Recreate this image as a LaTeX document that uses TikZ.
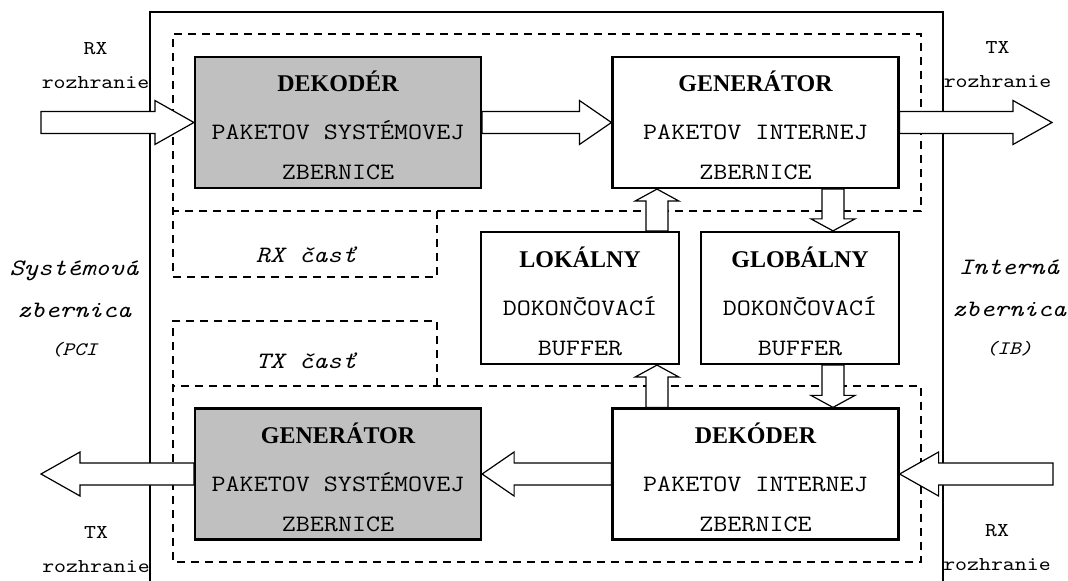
\documentclass[tikz,border=0pt]{standalone}
\usepackage{fontspec}
\setmainfont{Liberation Serif}
\setmonofont[FakeStretch=1.16]{Latin Modern Mono}
\usetikzlibrary{calc, positioning}
\definecolor{decgray}{RGB}{192,192,192}

\newcommand{\blocktitle}[1]{{\rmfamily\bfseries\fontsize{12}{20}\selectfont\rule{0pt}{13.3pt}#1}}
% hollow block arrow: [head length]{start}{tip}
\newcommand{\hollowarrow}[3][19.5pt]{
    \coordinate (ha-s) at (#2);
    \coordinate (ha-t) at (#3);
    \coordinate (ha-h) at ($(ha-t)!#1!(ha-s)$);
    \draw[blockarrow] ($(ha-s)!5.5pt!90:(ha-t)$) -- ($(ha-h)!5.5pt!90:(ha-t)$) -- ($(ha-h)!11pt!90:(ha-t)$) -- (ha-t) -- ($(ha-h)!11pt!-90:(ha-t)$) -- ($(ha-h)!5.5pt!-90:(ha-t)$) -- ($(ha-s)!5.5pt!-90:(ha-t)$) -- cycle;
}

\begin{document}
\begin{tikzpicture}[
    x=0.5pt, y=-0.5pt,
    box/.style={draw, line width=1.1pt, fill=#1, minimum width=143pt, minimum height=65.5pt, inner sep=0pt, align=center, font=\ttfamily\fontsize{11.75}{20}\selectfont},
    box/.default=white,
    bufbox/.style={box, minimum width=99pt, minimum height=66pt},
    region/.style={line width=0.8pt, dash pattern=on 4pt off 3pt},
    parttext/.style={inner sep=0pt, font=\ttfamily\itshape\fontsize{11.75}{14}\selectfont},
    iface/.style={align=center, inner sep=0pt, font=\ttfamily\fontsize{9.8}{17}\selectfont},
    bus/.style={align=center, inner sep=0pt, font=\ttfamily\itshape\fontsize{11.75}{21}\selectfont},
    blockarrow/.style={draw, fill=white, line width=0.6pt, line join=miter, miter limit=10}
]
    \useasboundingbox (0,0) rectangle (1068,581);

    % Outer frame
    \draw[line width=0.7pt] (150,581) -- (150,12) -- (943,12) -- (943,581);

    % RX and TX parts
    \draw[region] (437,211) -- (437,277) -- (173,277) -- (173,34) -- (921,34) -- (921,211) -- (173,211);
    \draw[region] (437,386) -- (437,321) -- (173,321) -- (173,562) -- (921,562) -- (921,386) -- (173,386);
    \node[parttext] (rxpart) at (306,255) {RX časť};
    \node[parttext] (txpart) at (306,361) {TX časť};

    % Blocks
    \node[box=decgray] (sysdec) at (338,122.5) {\blocktitle{DEKODÉR}\\[4pt]PAKETOV SYSTÉMOVEJ\\ZBERNICE};
    \node[box] (intgen) at (755.5,122.5) {\blocktitle{GENERÁTOR}\\[4pt]PAKETOV INTERNEJ\\ZBERNICE};
    \node[bufbox] (lokbuf) at (580,298) {\blocktitle{LOKÁLNY}\\[4pt]DOKONČOVACÍ\\BUFFER};
    \node[bufbox] (globbuf) at (800,298) {\blocktitle{GLOBÁLNY}\\[4pt]DOKONČOVACÍ\\BUFFER};
    \node[box] (intdec) at (755.5,474) {\blocktitle{DEKÓDER}\\[4pt]PAKETOV INTERNEJ\\ZBERNICE};
    \node[box=decgray] (sysgen) at (338,474) {\blocktitle{GENERÁTOR}\\[4pt]PAKETOV SYSTÉMOVEJ\\ZBERNICE};

    % Free arrow ends
    \coordinate (rxinL) at (41,122.5);
    \coordinate (txoutR) at (1052,122.5);
    \coordinate (rxinR) at (1053,474);
    \coordinate (txoutL) at (41,474);
    \coordinate (upx) at (657,0);
    \coordinate (dnx) at (833,0);

    % Arrows
    \hollowarrow{rxinL}{sysdec.west}
    \hollowarrow[16pt]{sysdec.east}{intgen.west}
    \hollowarrow{intgen.east}{txoutR}
    \hollowarrow[6pt]{lokbuf.north -| upx}{intgen.south -| upx}
    \hollowarrow[6pt]{intgen.south -| dnx}{globbuf.north -| dnx}
    \hollowarrow[6pt]{intdec.north -| upx}{lokbuf.south -| upx}
    \hollowarrow[6pt]{globbuf.south -| dnx}{intdec.north -| dnx}
    \hollowarrow{rxinR}{intdec.east}
    \hollowarrow[16pt]{intdec.west}{sysgen.east}
    \hollowarrow{sysgen.west}{txoutL}

    % Labels
    \node[iface] (rxinLlab) at (95.5,66) {RX\\rozhranie};
    \node[iface] (txoutRlab) at (997.5,64.5) {TX\\rozhranie};
    \node[iface] (txoutLlab) at (96,549.5) {TX\\rozhranie};
    \node[iface] (rxinRlab) at (997,548) {RX\\rozhranie};
    \node[bus] (pcibus) at (74,309) {Systémová\\zbernica\\[-1.75pt]{\fontsize{9.5}{12}\selectfont (PCI}};
    \node[bus] (ibbus) at (1009,308) {Interná\\zbernica\\[-1.75pt]{\fontsize{9.5}{12}\selectfont (IB)}};
\end{tikzpicture}
\end{document}
